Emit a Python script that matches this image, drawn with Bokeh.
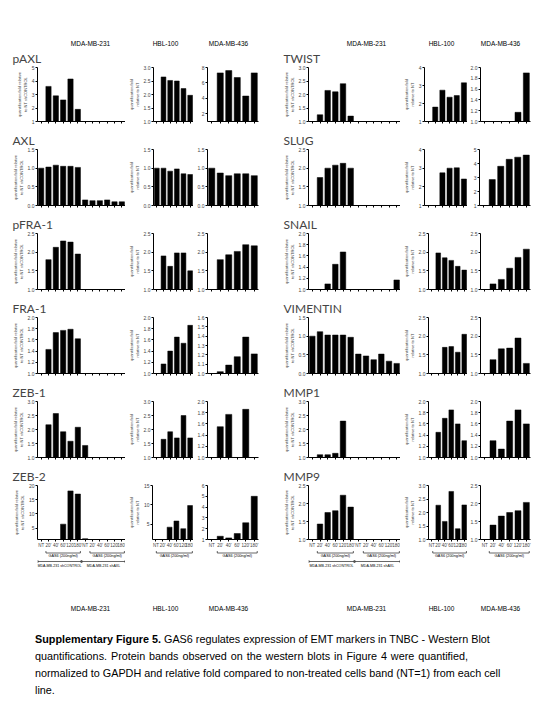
from bokeh.plotting import figure
from bokeh.layouts import column, row
from bokeh.models import Range1d, FixedTicker, PrintfTickFormatter, CustomJSTickFormatter, Div
from bokeh.embed import file_html
from bokeh.resources import INLINE
from bokeh.core.properties import value

N = None
# ---------------- data ----------------
CATS_231 = ["NT", "20'", "40'", "60'", "120'", "180'", "NT", "20'", "40'", "60'", "120'", "180'"]
CATS_LINE = ["NT", "20'", "40'", "60'", "120'", "180'"]
LINES = ["MDA-MB-231", "HBL-100", "MDA-MB-436"]
GAS6_LABEL = "GAS6 (200ng/ml)"
SH_LABELS = ["MDA-MB-231 shCONTROL", "MDA-MB-231 shAXL"]
YLAB_231 = "quantification fold relative\nto NT shCONTROL"
YLAB_HBL = "quantification fold\nrelative to NT"

# left column
PAXL_231 = [1.0, 3.6, 2.9, 2.6, 4.15, 1.9, N, N, N, N, N, N]
PAXL_HBL = [1.0, 2.65, 2.52, 2.5, 2.22, 1.97]
PAXL_436 = [1.0, 7.3, 7.6, 6.7, 4.3, 7.3]
PAXL_Y = [(1, 5, [1, 2, 3, 4, 5]), (1, 3, [1.0, 1.5, 2.0, 2.5, 3.0]), (1, 8, [2, 4, 6, 8])]

AXL_231 = [1.0, 1.03, 1.08, 1.05, 1.05, 1.02, 0.15, 0.13, 0.13, 0.15, 0.1, 0.1]
AXL_HBL = [1.0, 1.0, 0.92, 0.98, 0.85, 0.83]
AXL_436 = [1.0, 0.87, 0.8, 0.85, 0.85, 0.8]
AXL_Y = [(0, 1.5, [0.0, 0.5, 1.0, 1.5])] * 3

PFRA1_231 = [1.0, 1.8, 2.13, 2.3, 2.27, 1.95, N, N, N, N, N, N]
PFRA1_HBL = [1.0, 1.9, 1.62, 1.98, 1.98, 1.5]
PFRA1_436 = [1.0, 1.8, 1.93, 2.02, 2.2, 2.17]
PFRA1_Y = [(1, 2.5, [1.0, 1.5, 2.0, 2.5])] * 3

FRA1_231 = [1.0, 1.43, 1.73, 1.77, 1.79, 1.62, N, N, N, N, N, N]
FRA1_HBL = [1.0, 1.17, 1.4, 1.65, 1.54, 1.86]
FRA1_436 = [1.0, 1.02, 1.09, 1.18, 1.39, 1.21]
FRA1_Y = [(1, 2, [1.0, 1.2, 1.4, 1.6, 1.8, 2.0]), (1, 2, [1.0, 1.2, 1.4, 1.6, 1.8, 2.0]),
          (1, 1.6, [1.0, 1.1, 1.2, 1.3, 1.4, 1.5, 1.6])]

ZEB1_231 = [1.0, 2.17, 2.57, 1.92, 1.58, 2.08, 1.43, N, N, N, N, N]
ZEB1_HBL = [1.0, 1.65, 1.92, 1.7, 2.5, 1.7]
ZEB1_436 = [1.0, 1.55, 1.77, N, 1.86, N]
ZEB1_Y = [(1, 3, [1.0, 1.5, 2.0, 2.5, 3.0]), (1, 3, [1.0, 1.5, 2.0, 2.5, 3.0]),
          (1, 2, [1.0, 1.2, 1.4, 1.6, 1.8, 2.0])]

ZEB2_231 = [1.0, N, N, 6.4, 18.1, 17.0, 1.3, N, N, N, N, N]
ZEB2_HBL = [1.0, N, 4.2, 5.8, 3.8, 9.8]
ZEB2_436 = [1.0, 1.3, 1.15, 1.55, 2.55, 5.0]
ZEB2_Y = [(1, 20, [5, 10, 15, 20]), (1, 15, [5, 10, 15]), (1, 6, [1, 2, 3, 4, 5, 6])]

# right column
TWIST_231 = [1.0, 1.25, 2.15, 2.1, 2.4, 1.2, N, N, N, N, N, N]
TWIST_HBL = [1.0, 1.8, 2.74, 2.35, 2.44, 3.15]
TWIST_436 = [1.0, N, N, N, 1.17, 1.9]
TWIST_Y = [(1, 3, [1.0, 1.5, 2.0, 2.5, 3.0]), (1, 4, [1, 2, 3, 4]),
           (1, 2, [1.0, 1.2, 1.4, 1.6, 1.8, 2.0])]

SLUG_231 = [1.0, 1.75, 2.0, 2.08, 2.13, 2.0, N, N, N, N, N, N]
SLUG_HBL = [1.0, N, 2.75, 3.0, 3.02, 2.42]
SLUG_436 = [1.0, 2.85, 3.8, 4.3, 4.45, 4.6]
SLUG_Y = [(1, 2.5, [1.0, 1.5, 2.0, 2.5]), (1, 4, [1, 2, 3, 4]), (1, 5, [1, 2, 3, 4, 5])]

SNAIL_231 = [1.0, N, 1.1, 1.45, 1.67, N, N, N, N, N, N, 1.17]
SNAIL_HBL = [1.0, 1.98, 1.85, 1.78, 1.62, 1.52]
SNAIL_436 = [1.0, 1.15, 1.27, 1.57, 1.86, 2.08]
SNAIL_Y = [(1, 2, [1.0, 1.2, 1.4, 1.6, 1.8, 2.0]), (1, 2.5, [1.0, 1.5, 2.0, 2.5]),
           (1, 2.5, [1.0, 1.5, 2.0, 2.5])]

VIM_231 = [1.0, 1.12, 1.03, 1.03, 1.03, 0.97, 0.52, 0.47, 0.37, 0.52, 0.33, 0.27]
VIM_HBL = [1.0, N, 1.7, 1.72, 1.57, 2.05]
VIM_436 = [1.0, 1.37, 1.66, 1.68, 1.95, 1.27]
VIM_Y = [(0, 1.5, [0.0, 0.5, 1.0, 1.5]), (1, 2.5, [1.0, 1.5, 2.0, 2.5]), (1, 2.5, [1.0, 1.5, 2.0, 2.5])]

MMP1_231 = [1.0, 1.1, 1.1, 1.15, 2.3, N, N, N, N, N, N, N]
MMP1_HBL = [1.0, 1.45, 1.7, 1.85, 1.6, 1.3]
MMP1_436 = [1.0, 1.3, 1.15, 1.65, 1.85, 1.6]
MMP1_Y = [(1, 3, [1.0, 1.5, 2.0, 2.5, 3.0]), (1, 2, [1.0, 1.2, 1.4, 1.6, 1.8, 2.0]),
          (1, 2, [1.0, 1.2, 1.4, 1.6, 1.8, 2.0])]

MMP9_231 = [1.0, 1.43, 1.75, 1.8, 2.23, 1.9, N, N, N, N, N, N]
MMP9_HBL = [1.0, 2.27, 1.67, 2.78, 1.4, 2.28]
MMP9_436 = [1.0, 1.4, 1.65, 1.75, 1.8, 2.03]
MMP9_Y = [(1, 2.5, [1.0, 1.5, 2.0, 2.5]), (1, 3, [1.0, 1.5, 2.0, 2.5, 3.0]), (1, 2.5, [1.0, 1.5, 2.0, 2.5])]

LEFT_ROWS = [("pAXL", [PAXL_231, PAXL_HBL, PAXL_436], PAXL_Y),
             ("AXL", [AXL_231, AXL_HBL, AXL_436], AXL_Y),
             ("pFRA-1", [PFRA1_231, PFRA1_HBL, PFRA1_436], PFRA1_Y),
             ("FRA-1", [FRA1_231, FRA1_HBL, FRA1_436], FRA1_Y),
             ("ZEB-1", [ZEB1_231, ZEB1_HBL, ZEB1_436], ZEB1_Y),
             ("ZEB-2", [ZEB2_231, ZEB2_HBL, ZEB2_436], ZEB2_Y)]
RIGHT_ROWS = [("TWIST", [TWIST_231, TWIST_HBL, TWIST_436], TWIST_Y),
              ("SLUG", [SLUG_231, SLUG_HBL, SLUG_436], SLUG_Y),
              ("SNAIL", [SNAIL_231, SNAIL_HBL, SNAIL_436], SNAIL_Y),
              ("VIMENTIN", [VIM_231, VIM_HBL, VIM_436], VIM_Y),
              ("MMP1", [MMP1_231, MMP1_HBL, MMP1_436], MMP1_Y),
              ("MMP9", [MMP9_231, MMP9_HBL, MMP9_436], MMP9_Y)]

CAPTION_BOLD = "Supplementary Figure 5."
CAPTION_LINES = [" GAS6 regulates expression of EMT markers in TNBC - Western Blot",
                 "quantifications. Protein bands observed on the western blots in Figure 4 were quantified,",
                 "normalized to GAPDH and relative fold compared to non-treated cells band (NT=1) from each cell",
                 "line."]

# ---------------- styling / geometry ----------------
FONT = "Liberation Sans"
TITLE_FONT = "Lato"
PAGE_W = 532
# (left border, frame width, right border) per panel
LEFT_GEO = [(37, 88, 0), (22, 46, 0), (14, 51, 20)]
RIGHT_GEO = [(30, 92, 0), (24, 43, 0), (12, 51, 2)]
FRAME_H = 56
HEAD_X = [90, 165, 228, 366, 441, 500]


def bar_panel(vals, cats, yspec, geo, tb, bb, ylabel=None, title=None, show_x=False):
    start, end, ticks = yspec
    lb, fw, rb = geo
    n = len(cats)
    p = figure(width=lb + fw + rb, height=tb + FRAME_H + bb,
               x_range=Range1d(0, n), y_range=Range1d(start, end),
               output_backend="svg", toolbar_location=None,
               min_border_left=lb, min_border_right=rb,
               min_border_top=tb, min_border_bottom=bb)
    xs = [i + 0.5 for i, v in enumerate(vals) if v is not None]
    tops = [v for v in vals if v is not None]
    p.vbar(x=xs, top=tops, bottom=start, width=0.72,
           fill_color="black", line_color="black", line_width=0.5)
    p.xgrid.visible = False
    p.ygrid.visible = False
    p.outline_line_color = None

    xa = p.xaxis[0]
    xa.ticker = FixedTicker(ticks=[i + 0.5 for i in range(n)])
    xa.major_tick_in = 0
    xa.major_tick_out = 2
    xa.minor_tick_line_color = None
    xa.axis_line_color = "black"
    xa.major_tick_line_color = "black"
    xa.major_label_text_font = FONT
    if show_x:
        xa.formatter = CustomJSTickFormatter(args=dict(labels=cats),
                                             code="return labels[Math.floor(tick)];")
        xa.major_label_text_font_size = "4.5px"
        xa.major_label_standoff = 1
    else:
        xa.formatter = CustomJSTickFormatter(code="return '';")
        xa.major_label_text_font_size = "3px"
        xa.major_label_standoff = 0

    ya = p.yaxis[0]
    ya.ticker = FixedTicker(ticks=ticks)
    is_int = all(isinstance(t, int) for t in ticks)
    ya.formatter = PrintfTickFormatter(format="%d" if is_int else "%.1f")
    ya.major_tick_in = 0
    ya.major_tick_out = 2
    ya.minor_tick_line_color = None
    ya.major_label_text_font_size = "5px"
    ya.major_label_text_font = FONT
    ya.major_label_standoff = 1
    ya.axis_line_color = "black"
    if ylabel:
        ya.axis_label = ylabel
        ya.axis_label_text_font_size = "4px"
        ya.axis_label_text_font = FONT
        ya.axis_label_text_font_style = "normal"
        ya.axis_label_standoff = 1
    if title:
        p.title.text = title
        p.title.text_font = TITLE_FONT
        p.title.text_font_size = "12px"
        p.title.text_font_style = "normal"
        p.title.align = "left"
        p.title.offset = -25
        p.title.standoff = 3
    return p


def bracket_fig(cats, geo, with_lines):
    lb, fw, rb = geo
    n = len(cats)
    h = 22
    p = figure(width=lb + fw + rb, height=h, x_range=Range1d(0, n), y_range=Range1d(h, 0),
               x_axis_type=None, y_axis_type=None, output_backend="svg", toolbar_location=None,
               min_border_left=lb, min_border_right=rb, min_border_top=0, min_border_bottom=0)
    p.outline_line_color = None
    k = len(CATS_LINE)
    groups = n // k
    gx0 = [g * k + 1 + 0.15 for g in range(groups)]
    gx1 = [(g + 1) * k - 0.15 for g in range(groups)]
    p.segment(x0=gx0, y0=[2.5] * groups, x1=gx1, y1=[2.5] * groups, line_color="black", line_width=0.6)
    p.segment(x0=gx0 + gx1, y0=[0.5] * (2 * groups), x1=gx0 + gx1, y1=[2.5] * (2 * groups),
              line_color="black", line_width=0.6)
    p.text(x=[(a + b) / 2 for a, b in zip(gx0, gx1)], y=[3.5] * groups, text=[GAS6_LABEL] * groups,
           text_align="center", text_baseline="top", text_font=value(FONT), text_font_size="3.8px")
    if with_lines:
        lx0 = [g * k + 0.05 for g in range(groups)]
        lx1 = [(g + 1) * k - 0.05 for g in range(groups)]
        p.segment(x0=lx0, y0=[11] * groups, x1=lx1, y1=[11] * groups, line_color="black", line_width=0.6)
        p.segment(x0=lx0 + lx1, y0=[9.5] * (2 * groups), x1=lx0 + lx1, y1=[12.5] * (2 * groups),
                  line_color="black", line_width=0.6)
        p.text(x=[(a + b) / 2 for a, b in zip(lx0, lx1)], y=[13] * groups, text=SH_LABELS[:groups],
               text_align="center", text_baseline="top", text_font=value(FONT), text_font_size="3.6px")
    return p


def header_fig(h, y):
    p = figure(width=PAGE_W, height=h, x_range=Range1d(0, PAGE_W), y_range=Range1d(h, 0),
               x_axis_type=None, y_axis_type=None, output_backend="svg", toolbar_location=None,
               min_border=0)
    p.outline_line_color = None
    p.text(x=HEAD_X, y=[y] * 6, text=LINES * 2, text_align="center", text_baseline="middle",
           text_font=value(FONT), text_font_size="6.5px")
    return p


children = [header_fig(47, 43)]
cats_list = [CATS_231, CATS_LINE, CATS_LINE]
ylabels = [YLAB_231, YLAB_HBL, None]
for i in range(6):
    tb = 18 if i == 0 else 20
    bb = 9 if i == 5 else 8
    figs = []
    for rows, geos in ((LEFT_ROWS, LEFT_GEO), (RIGHT_ROWS, RIGHT_GEO)):
        name, vals, yspecs = rows[i]
        for k in range(3):
            figs.append(bar_panel(vals[k], cats_list[k], yspecs[k], geos[k], tb, bb,
                                  ylabel=ylabels[k], title=name if k == 0 else None,
                                  show_x=(i == 5)))
    children.append(row(*figs))

brs = []
for geos in (LEFT_GEO, RIGHT_GEO):
    for k in range(3):
        brs.append(bracket_fig(cats_list[k], geos[k], with_lines=(k == 0)))
children.append(row(*brs))
children.append(header_fig(48, 36))

just = "text-align:justify;text-align-last:justify;white-space:nowrap;"
html = ('<div style="font-family:\'Liberation Sans\',Arial,sans-serif;font-size:10.8px;line-height:17px;'
        'color:#000;padding:11px 0 0 35px;width:468px;">'
        f'<div style="{just}"><b>{CAPTION_BOLD}</b>{CAPTION_LINES[0]}</div>'
        f'<div style="{just}">{CAPTION_LINES[1]}</div>'
        f'<div style="{just}">{CAPTION_LINES[2]}</div>'
        f'<div>{CAPTION_LINES[3]}</div></div>')
children.append(Div(text=html, width=PAGE_W, height=85, margin=0))

layout = column(*children)
open("out.html", "w").write(file_html(layout, INLINE))
